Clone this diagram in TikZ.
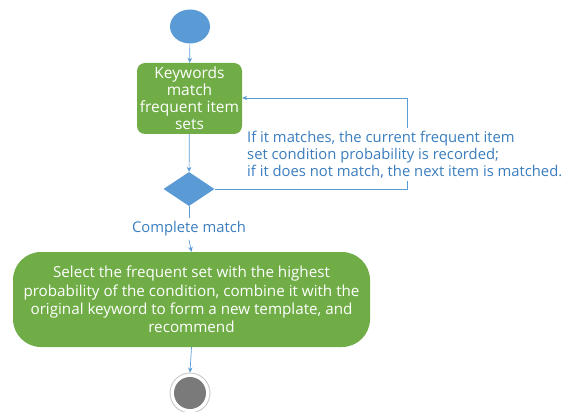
\documentclass[tikz,border=0pt]{standalone}
\usepackage{fontspec}
\setmainfont{Open Sans}
\usetikzlibrary{shapes.geometric,arrows.meta}
\definecolor{grn}{HTML}{70AD47}
\definecolor{blu}{HTML}{5B9BD5}
\definecolor{txtb}{HTML}{3A7DBF}
\definecolor{endg}{HTML}{7A7A7A}
\begin{document}
\begin{tikzpicture}[x=1pt,y=-1pt,
  act/.style={fill=grn, text=white, align=center, inner sep=0pt},
  flow/.style={draw=blu, line width=0.7pt},
  arr/.style={flow, -{Stealth[length=5pt,width=4.5pt]}},
  lbl/.style={text=txtb, font=\fontsize{14.8}{17}\selectfont}]
\useasboundingbox (0,0) rectangle (571,412);
\node[ellipse, fill=blu, minimum width=40pt, minimum height=34pt, inner sep=0pt] (start) at (190,26.5) {};
\node[act, rounded corners=8pt, minimum width=105pt, minimum height=71pt, font=\fontsize{15.5}{17}\selectfont] (kw) at (189.5,98.5) {Keywords\\match\\frequent item\\sets};
\node[diamond, fill=blu, minimum width=51pt, minimum height=34pt, inner sep=0pt] (dia) at (189,189) {};
\node[lbl] (cm) at (189,229) {Complete match};
\node[act, rounded corners=28pt, minimum width=357pt, minimum height=95pt, font=\fontsize{15.2}{18.3}\selectfont] (big) at (191.5,299.5) {Select the frequent set with the highest\\probability of the condition, combine it with the\\original keyword to form a new template, and\\recommend};
\node[circle, draw=black!20, fill=white, line width=1pt, minimum size=40pt, inner sep=0pt] (endo) at (190,393) {};
\node[circle, fill=endg, minimum size=32pt, inner sep=0pt] (endi) at (endo) {};
\coordinate (c1) at (407,98);
\draw[arr] (start) -- (kw);
\draw[arr] (kw) -- (dia);
\draw[flow] (dia.east) -| (c1);
\draw[arr] (c1) -- (kw.east |- c1);
\draw[flow] (dia.south) -- (cm.north);
\draw[arr] (cm.south) -- (big.north);
\draw[arr] (big.south) -- (endo.north);
\node[lbl, fill=white, inner xsep=2pt, inner ysep=3pt, anchor=north west, align=left] (note) at (245,128) {If it matches, the current frequent item\\set condition probability is recorded;\\if it does not match, the next item is matched.};
\end{tikzpicture}
\end{document}
